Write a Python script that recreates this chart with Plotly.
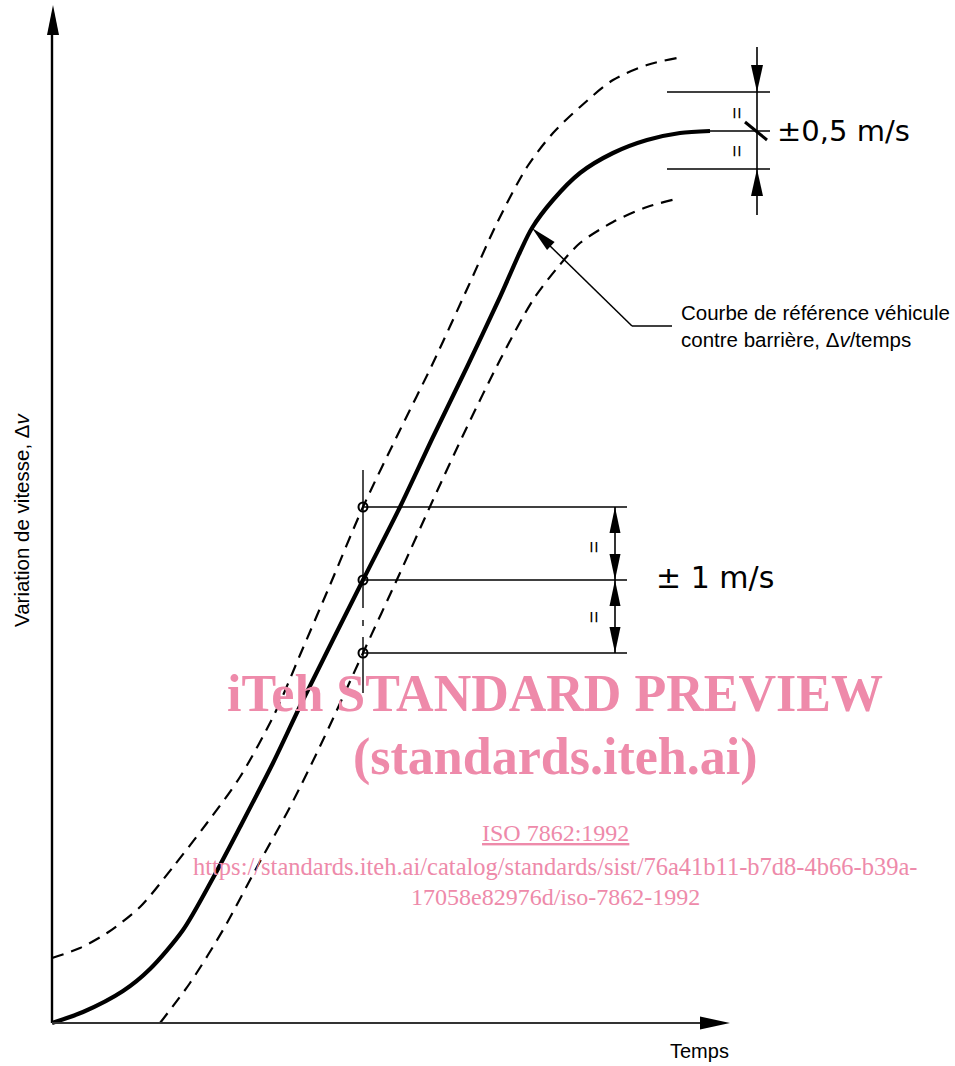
import math
import plotly.graph_objects as go

# ---- data (time units / delta-v units, origin at the axes corner) ----
t_ref = [0, 31, 71, 98, 131, 161, 188, 221, 251, 311, 348, 381, 415, 448, 468, 480, 501, 528, 561, 595, 628, 658]
v_ref = [0, 11, 32, 54, 93, 145, 196, 260, 323, 443, 516, 586, 656, 726, 771, 795, 823, 850, 870, 883, 890, 892]

t_upper = [0, 28, 55, 88, 121, 155, 188, 223, 248, 278, 311, 348, 381, 416, 445, 475, 501, 528, 561, 595, 625]
v_upper = [65, 75, 90, 116, 156, 200, 246, 310, 368, 438, 516, 593, 660, 736, 800, 856, 890, 916, 943, 958, 965]

t_lower = [108, 138, 171, 205, 238, 271, 311, 348, 381, 415, 448, 481, 506, 528, 561, 595, 628]
v_lower = [0, 40, 93, 156, 216, 283, 370, 450, 523, 596, 663, 723, 756, 780, 801, 816, 825]

# tolerance construction at t = 311 (+-1 m/s) and at the end of the curve (+-0.5 m/s)
tol1_t = 311
tol1_v = [516, 443, 370]          # upper, reference, lower
tol05_v = [931, 892, 854]         # upper, reference, lower

x_label = "Temps"
y_label = "Variation de vitesse, \u0394<i>v</i>"
callout = "Courbe de r\u00e9f\u00e9rence v\u00e9hicule<br>contre barri\u00e8re, \u0394<i>v</i>/temps"
tol1_text = "\u00b1 1 m/s"
tol05_text = "\u00b10,5 m/s"
wm_lines = ["<b>iTeh STANDARD PREVIEW</b>", "<b>(standards.iteh.ai)</b>", "<u>ISO 7862:1992</u>",
            "https://standards.iteh.ai/catalog/standards/sist/76a41b11-b7d8-4b66-b39a-",
            "17058e82976d/iso-7862-1992"]

W, H = 955, 1066
X0, Y0 = 52, 1023   # pixel position of the origin
PINK = "rgb(238,138,170)"
SANS = "Liberation Sans, Arial, sans-serif"

fig = go.Figure()
dash = "12px,8px"
fig.add_trace(go.Scatter(x=t_upper, y=v_upper, mode="lines",
                         line=dict(color="black", width=2.2, dash=dash, shape="spline", smoothing=0.8)))
fig.add_trace(go.Scatter(x=t_lower, y=v_lower, mode="lines",
                         line=dict(color="black", width=2.2, dash=dash, shape="spline", smoothing=0.8)))
fig.add_trace(go.Scatter(x=t_ref, y=v_ref, mode="lines",
                         line=dict(color="black", width=4.2, shape="spline", smoothing=0.8)))
fig.add_trace(go.Scatter(x=[tol1_t] * 3, y=tol1_v, mode="markers",
                         marker=dict(symbol="circle-open", size=9, color="black", line=dict(width=2))))

shapes = []


def seg(x0, y0, x1, y1, w=1.5, color="black"):
    shapes.append(dict(type="line", xref="x", yref="y", x0=x0, y0=y0, x1=x1, y1=y1,
                       line=dict(color=color, width=w)))


def head(tx, ty, dx, dy, L=26, Wd=11):
    n = math.hypot(dx, dy)
    ux, uy = dx / n, dy / n
    bx, by = tx - ux * L, ty - uy * L
    px, py = -uy * Wd / 2, ux * Wd / 2
    shapes.append(dict(type="path", xref="x", yref="y",
                       path=f"M{tx},{ty} L{bx + px},{by + py} L{bx - px},{by - py} Z",
                       fillcolor="black", line=dict(width=0)))


# axes
seg(0, 0, 0, 995, w=2.4)
head(1, 1018, 0, 1, L=30, Wd=12)
seg(0, 0, 655, 0, w=2.2, color="#333")
head(678, 0, 1, 0, L=30, Wd=13)

# +-1 m/s construction
ext1 = 575
for v in tol1_v:
    seg(tol1_t, v, ext1, v, w=1.6)
seg(tol1_t, 553, tol1_t, 415, w=1.4)
seg(tol1_t, 403, tol1_t, 397, w=1.4)
seg(tol1_t, 386, tol1_t, 330, w=1.4)
xd1 = 563
seg(xd1, tol1_v[0], xd1, tol1_v[2], w=1.6)
head(xd1, tol1_v[0], 0, 1)
head(xd1, tol1_v[1], 0, -1)
head(xd1, tol1_v[1], 0, 1)
head(xd1, tol1_v[2], 0, -1)

# +-0.5 m/s construction
xd05 = 705
seg(615, tol05_v[0], 718, tol05_v[0], w=1.6)
seg(658, tol05_v[1], 718, tol05_v[1], w=1.6)
seg(615, tol05_v[2], 718, tol05_v[2], w=1.6)
seg(xd05, 976, xd05, 808, w=1.6)
head(xd05, tol05_v[0], 0, -1, L=27, Wd=12)
head(xd05, tol05_v[2], 0, 1, L=27, Wd=12)
seg(693, 901, 715, 883, w=3)

# callout leader
seg(580, 697, 620, 697, w=1.5)
seg(580, 697, 494, 781, w=1.5)
head(480, 795, -100, 95, L=26, Wd=11)

ann = []


def txt(x, y, s, size, font=SANS, color="black", xanchor="center", angle=0, align="center"):
    ann.append(dict(x=x, y=y, xref="x", yref="y", text=s, showarrow=False, xanchor=xanchor,
                    yanchor="middle", textangle=angle, align=align,
                    font=dict(family=font, size=size, color=color)))


txt(647, -28, x_label, 20)
txt(-31, 503, y_label, 20.5, angle=-90)
txt(627, 697, callout, 20.5, xanchor="left", align="left")
txt(602, 446, tol1_text, 30, font="DejaVu Sans", xanchor="left")
txt(723, 892, tol05_text, 29, font="DejaVu Sans", xanchor="left")
for (x, y) in [(543, 476), (543, 406), (686, 910), (686, 872)]:
    txt(x, y, "=", 21, color="#000", angle=90)

SERIF = "Liberation Serif, Times New Roman, serif"
txt(503, 330, wm_lines[0], 52, font=SERIF, color=PINK)
txt(503, 266, wm_lines[1], 52, font=SERIF, color=PINK)
txt(503, 190, wm_lines[2], 24, font=SERIF, color=PINK)
txt(503, 157, wm_lines[3], 24.5, font=SERIF, color=PINK)
txt(503, 126, wm_lines[4], 24, font=SERIF, color=PINK)

fig.update_layout(
    width=W, height=H, margin=dict(l=0, r=0, t=0, b=0), autosize=False,
    paper_bgcolor="white", plot_bgcolor="white", showlegend=False,
    xaxis=dict(range=[-X0, W - X0], visible=False, fixedrange=True),
    yaxis=dict(range=[Y0 - H, Y0], visible=False, fixedrange=True),
    shapes=shapes, annotations=ann,
)

fig.write_html("out.html", config={"displayModeBar": False},
               post_script="document.body.style.margin='0';document.body.style.overflow='hidden';")
